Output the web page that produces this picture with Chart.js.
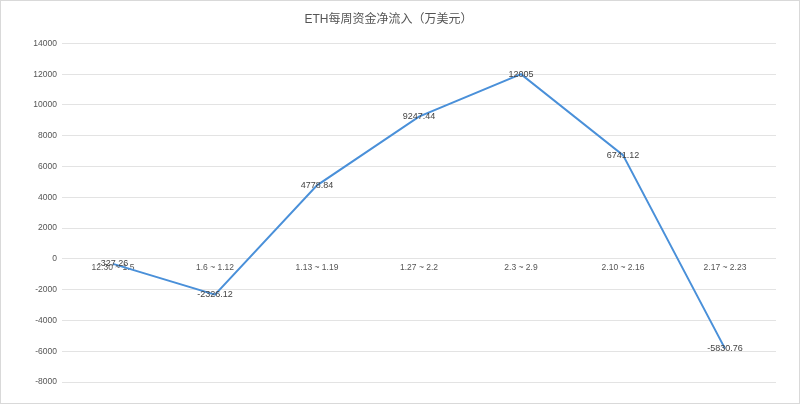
<!DOCTYPE html>
<html>
<head>
<meta charset="utf-8">
<script src="https://cdn.jsdelivr.net/npm/chart.js@4/dist/chart.umd.min.js"></script>
<style>
  html, body { margin: 0; padding: 0; background: #fff; }
  #wrap { width: 800px; height: 404px; box-sizing: border-box; border: 1px solid #d9d9d9; }
</style>
</head>
<body>
<div id="wrap"><canvas id="myChart" width="798" height="402"></canvas></div>
<script>
var weeks = ['12.30 ~ 1.5', '1.6 ~ 1.12', '1.13 ~ 1.19', '1.27 ~ 2.2', '2.3 ~ 2.9', '2.10 ~ 2.16', '2.17 ~ 2.23'];
var netInflow = [-327.26, -2326.12, 4778.84, 9247.44, 12005, 6741.12, -5830.76];
var yTicks = [-8000, -6000, -4000, -2000, 0, 2000, 4000, 6000, 8000, 10000, 12000, 14000];

var fontFamily = "'Liberation Sans', 'Noto Sans CJK SC', sans-serif";

// draw the value at each point, centred on the point
var pointLabels = {
  id: 'pointLabels',
  afterDatasetsDraw: function (chart) {
    var ctx = chart.ctx;
    var meta = chart.getDatasetMeta(0);
    ctx.save();
    ctx.font = '9px ' + fontFamily;
    ctx.fillStyle = '#444';
    ctx.textAlign = 'center';
    ctx.textBaseline = 'middle';
    meta.data.forEach(function (pt, i) {
      ctx.fillText(String(netInflow[i]), pt.x, pt.y);
    });
    ctx.restore();
  }
};

var element = document.getElementById('myChart').getContext('2d');

var chart = new Chart(element, {
  type: 'line',
  data: {
    labels: weeks,
    datasets: [{
      label: 'ETH',
      data: netInflow,
      borderColor: '#4a90d9',
      borderWidth: 2,
      pointRadius: 0,
      tension: 0,
      fill: false
    }]
  },
  options: {
    responsive: false,
    animation: false,
    layout: { padding: { left: 0, right: 23, top: 0, bottom: 21 } },
    plugins: {
      legend: { display: false },
      tooltip: { enabled: false },
      title: {
        display: true,
        text: 'ETH每周资金净流入（万美元）',
        color: '#555',
        font: { family: fontFamily, size: 12, weight: 'normal' },
        padding: { top: 11, bottom: 17 }
      }
    },
    scales: {
      x: {
        position: { y: 0 },
        offset: true,
        grid: { display: false, drawTicks: false },
        border: { display: false },
        ticks: {
          color: '#555',
          font: { family: fontFamily, size: 8.5 },
          padding: 4,
          maxRotation: 0,
          autoSkip: false
        }
      },
      y: {
        min: yTicks[0],
        max: yTicks[yTicks.length - 1],
        afterFit: function (scale) { scale.width = 61; },
        afterBuildTicks: function (scale) {
          scale.ticks = yTicks.map(function (v) { return { value: v }; });
        },
        grid: { color: '#e3e3e3', lineWidth: 1, drawTicks: false },
        border: { display: false },
        ticks: {
          color: '#555',
          font: { family: fontFamily, size: 8.5 },
          padding: 5,
          callback: function (v) { return String(v); }
        }
      }
    }
  },
  plugins: [pointLabels]
});
</script>
</body>
</html>
